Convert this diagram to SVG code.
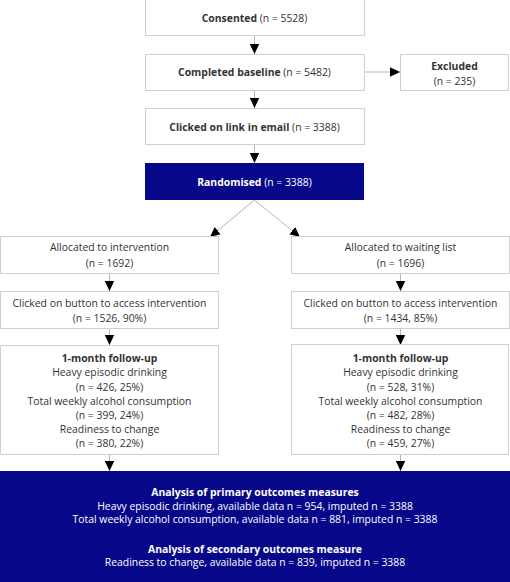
<svg xmlns="http://www.w3.org/2000/svg" width="510" height="582" viewBox="0 0 510 582">
<defs>
<marker id="ah" markerUnits="userSpaceOnUse" markerWidth="10" markerHeight="10" refX="10" refY="5" orient="auto" viewBox="0 0 10 10">
<path d="M0,0.3 L10,5 L0,9.7 z" fill="#000"/>
</marker>
</defs>
<style>
.box{fill:#fff;stroke:#cfcfcf;stroke-width:1}
.dark{fill:#07078a;stroke:none}
text{font-family:"Open Sans","Noto Sans","Liberation Sans",sans-serif;font-size:10.4px;fill:#333;text-anchor:middle}
.w{fill:#fff}
.b{font-weight:bold}
.c line{stroke:#b5b5b5;stroke-width:1;marker-end:url(#ah)}
</style>
<rect width="510" height="582" fill="#fff"/>
<g class="c" id="connectors">
<line x1="254.5" y1="36" x2="254.5" y2="54"/>
<line x1="254.5" y1="90" x2="254.5" y2="108"/>
<line x1="254.5" y1="145" x2="254.5" y2="163"/>
<line x1="364" y1="72" x2="400" y2="72"/>
<line x1="254.5" y1="200" x2="210" y2="237"/>
<line x1="254.5" y1="200" x2="300" y2="237"/>
<line x1="109.5" y1="273" x2="109.5" y2="291"/>
<line x1="109.5" y1="328" x2="109.5" y2="345"/>
<line x1="109.5" y1="454" x2="109.5" y2="471"/>
<line x1="400.5" y1="273" x2="400.5" y2="291"/>
<line x1="400.5" y1="328" x2="400.5" y2="345"/>
<line x1="400.5" y1="454" x2="400.5" y2="471"/>
</g>
<g id="consented">
<rect class="box" x="145.5" y="-0.5" width="219" height="36"/>
<text x="254.5" y="21.5"><tspan class="b">Consented</tspan> (n = 5528)</text>
</g>
<g id="baseline">
<rect class="box" x="145.5" y="54.5" width="219" height="36"/>
<text x="254.5" y="75.5"><tspan class="b">Completed baseline</tspan> (n = 5482)</text>
</g>
<g id="excluded">
<rect class="box" x="400.5" y="54.5" width="108" height="36"/>
<text x="454.5" y="69.5" class="b">Excluded</text>
<text x="454.5" y="84.5">(n = 235)</text>
</g>
<g id="clicked">
<rect class="box" x="145.5" y="108.5" width="219" height="36"/>
<text x="254.5" y="130.5"><tspan class="b">Clicked on link in email</tspan> (n = 3388)</text>
</g>
<g id="randomised">
<rect class="dark" x="145" y="163" width="219" height="37"/>
<text x="254.5" y="185.5" class="w"><tspan class="b">Randomised</tspan> (n = 3388)</text>
</g>
<g id="alloc-int">
<rect class="box" x="0.5" y="236.5" width="218" height="37"/>
<text x="109.5" y="250.5">Allocated to intervention</text>
<text x="109.5" y="266.5">(n = 1692)</text>
</g>
<g id="alloc-wait">
<rect class="box" x="291.5" y="236.5" width="218" height="37"/>
<text x="400.5" y="250.5">Allocated to waiting list</text>
<text x="400.5" y="266.5">(n = 1696)</text>
</g>
<g id="click-int">
<rect class="box" x="0.5" y="291.5" width="218" height="37"/>
<text x="109.5" y="306.5">Clicked on button to access intervention</text>
<text x="109.5" y="321.5">(n = 1526, 90%)</text>
</g>
<g id="click-wait">
<rect class="box" x="291.5" y="291.5" width="218" height="37"/>
<text x="400.5" y="306.5">Clicked on button to access intervention</text>
<text x="400.5" y="321.5">(n = 1434, 85%)</text>
</g>
<g id="follow-int">
<rect class="box" x="0.5" y="345.5" width="218" height="109"/>
<text x="109.5" y="361.5" class="b">1-month follow-up</text>
<text x="109.5" y="376">Heavy episodic drinking</text>
<text x="109.5" y="390.5">(n = 426, 25%)</text>
<text x="109.5" y="404.5">Total weekly alcohol consumption</text>
<text x="109.5" y="418.5">(n = 399, 24%)</text>
<text x="109.5" y="432.5">Readiness to change</text>
<text x="109.5" y="446.5">(n = 380, 22%)</text>
</g>
<g id="follow-wait">
<rect class="box" x="291.5" y="344.5" width="217" height="110"/>
<text x="400.5" y="361.5" class="b">1-month follow-up</text>
<text x="400.5" y="376">Heavy episodic drinking</text>
<text x="400.5" y="390.5">(n = 528, 31%)</text>
<text x="400.5" y="404.5">Total weekly alcohol consumption</text>
<text x="400.5" y="418.5">(n = 482, 28%)</text>
<text x="400.5" y="432.5">Readiness to change</text>
<text x="400.5" y="446.5">(n = 459, 27%)</text>
</g>
<g id="analysis">
<rect class="dark" x="0" y="471" width="510" height="111"/>
<text x="255" y="496" class="w b">Analysis of primary outcomes measures</text>
<text x="255" y="509.5" class="w">Heavy episodic drinking, available data n = 954, imputed n = 3388</text>
<text x="255" y="523" class="w">Total weekly alcohol consumption, available data n = 881, imputed n = 3388</text>
<text x="255" y="552.5" class="w b">Analysis of secondary outcomes measure</text>
<text x="255" y="566" class="w">Readiness to change, available data n = 839, imputed n = 3388</text>
</g>
</svg>
